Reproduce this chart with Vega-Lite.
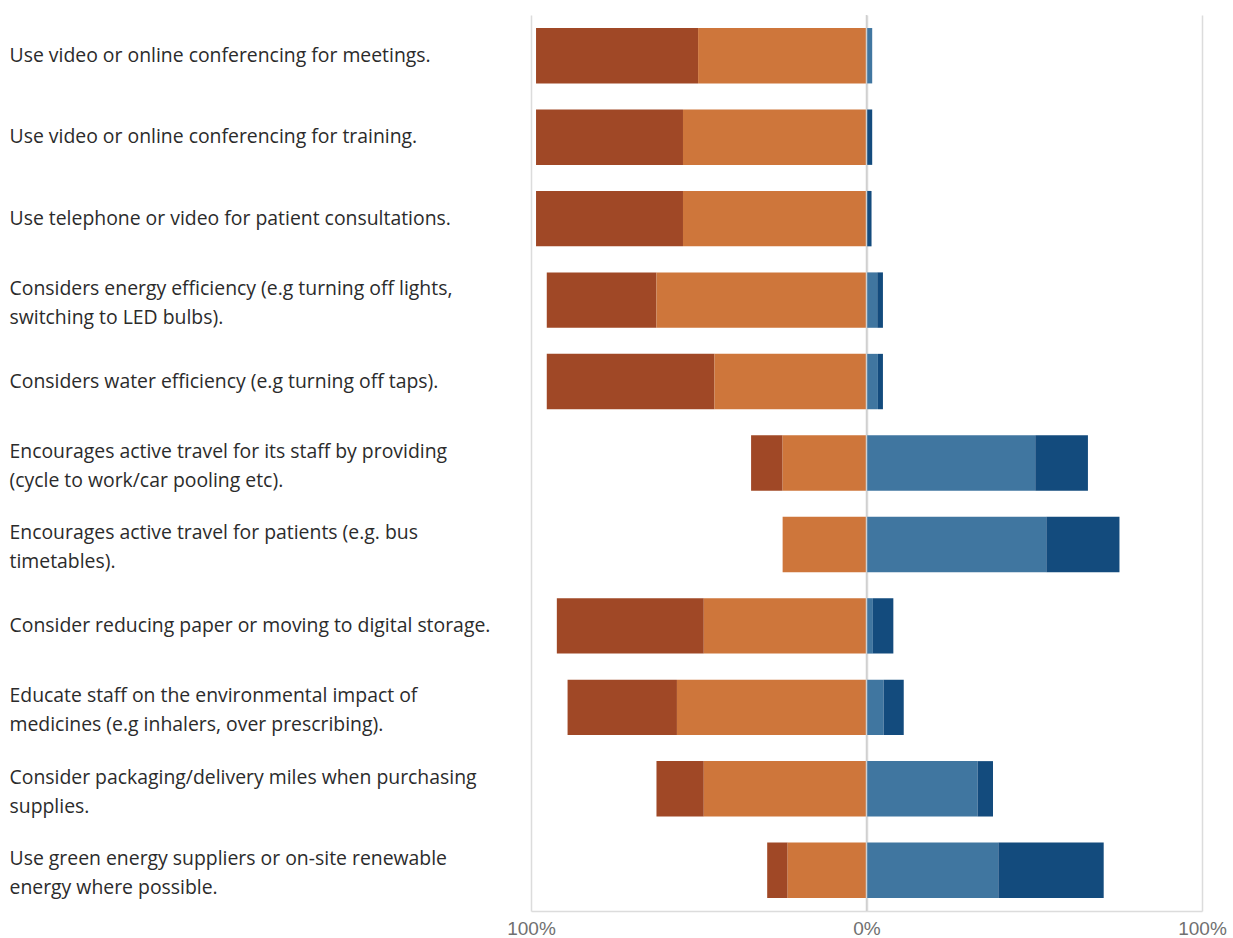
{
  "$schema": "https://vega.github.io/schema/vega-lite/v6.json",
  "width": 671,
  "height": 896,
  "autosize": "none",
  "padding": {"left": 531, "top": 15, "right": 31, "bottom": 27},
  "background": "white",
  "config": {"view": {"stroke": null}},
  "datasets": {
    "bars": [
      {"item": "Use video or online conferencing for meetings.", "response": "Strongly disagree", "pct": -48.3},
      {"item": "Use video or online conferencing for meetings.", "response": "Disagree", "pct": -50.2},
      {"item": "Use video or online conferencing for meetings.", "response": "Agree", "pct": 1.7},
      {"item": "Use video or online conferencing for meetings.", "response": "Strongly agree", "pct": 0},
      {"item": "Use video or online conferencing for training.", "response": "Strongly disagree", "pct": -43.8},
      {"item": "Use video or online conferencing for training.", "response": "Disagree", "pct": -54.7},
      {"item": "Use video or online conferencing for training.", "response": "Agree", "pct": 0},
      {"item": "Use video or online conferencing for training.", "response": "Strongly agree", "pct": 1.7},
      {"item": "Use telephone or video  for patient consultations.", "response": "Strongly disagree", "pct": -43.8},
      {"item": "Use telephone or video  for patient consultations.", "response": "Disagree", "pct": -54.7},
      {"item": "Use telephone or video  for patient consultations.", "response": "Agree", "pct": 0},
      {"item": "Use telephone or video  for patient consultations.", "response": "Strongly agree", "pct": 1.5},
      {"item": "Considers energy efficiency (e.g turning off lights,|switching to LED bulbs).", "response": "Strongly disagree", "pct": -32.7},
      {"item": "Considers energy efficiency (e.g turning off lights,|switching to LED bulbs).", "response": "Disagree", "pct": -62.6},
      {"item": "Considers energy efficiency (e.g turning off lights,|switching to LED bulbs).", "response": "Agree", "pct": 3.2},
      {"item": "Considers energy efficiency (e.g turning off lights,|switching to LED bulbs).", "response": "Strongly agree", "pct": 1.7},
      {"item": "Considers water efficiency (e.g turning off taps).", "response": "Strongly disagree", "pct": -50.0},
      {"item": "Considers water efficiency (e.g turning off taps).", "response": "Disagree", "pct": -45.3},
      {"item": "Considers water efficiency (e.g turning off taps).", "response": "Agree", "pct": 3.4},
      {"item": "Considers water efficiency (e.g turning off taps).", "response": "Strongly agree", "pct": 1.5},
      {"item": "Encourages active travel for its staff by providing|(cycle to work/car pooling etc).", "response": "Strongly disagree", "pct": -9.4},
      {"item": "Encourages active travel for its staff by providing|(cycle to work/car pooling etc).", "response": "Disagree", "pct": -25.0},
      {"item": "Encourages active travel for its staff by providing|(cycle to work/car pooling etc).", "response": "Agree", "pct": 50.3},
      {"item": "Encourages active travel for its staff by providing|(cycle to work/car pooling etc).", "response": "Strongly agree", "pct": 15.7},
      {"item": "Encourages active travel for patients (e.g. bus|timetables).", "response": "Strongly disagree", "pct": 0},
      {"item": "Encourages active travel for patients (e.g. bus|timetables).", "response": "Disagree", "pct": -25.0},
      {"item": "Encourages active travel for patients (e.g. bus|timetables).", "response": "Agree", "pct": 53.6},
      {"item": "Encourages active travel for patients (e.g. bus|timetables).", "response": "Strongly agree", "pct": 21.8},
      {"item": "Consider reducing paper or moving to digital storage.", "response": "Strongly disagree", "pct": -43.8},
      {"item": "Consider reducing paper or moving to digital storage.", "response": "Disagree", "pct": -48.5},
      {"item": "Consider reducing paper or moving to digital storage.", "response": "Agree", "pct": 1.9},
      {"item": "Consider reducing paper or moving to digital storage.", "response": "Strongly agree", "pct": 6.1},
      {"item": "Educate staff on the environmental impact of|medicines (e.g inhalers, over prescribing).", "response": "Strongly disagree", "pct": -32.6},
      {"item": "Educate staff on the environmental impact of|medicines (e.g inhalers, over prescribing).", "response": "Disagree", "pct": -56.5},
      {"item": "Educate staff on the environmental impact of|medicines (e.g inhalers, over prescribing).", "response": "Agree", "pct": 5.1},
      {"item": "Educate staff on the environmental impact of|medicines (e.g inhalers, over prescribing).", "response": "Strongly agree", "pct": 6.0},
      {"item": "Consider packaging/delivery miles when purchasing|supplies.", "response": "Strongly disagree", "pct": -14.1},
      {"item": "Consider packaging/delivery miles when purchasing|supplies.", "response": "Disagree", "pct": -48.5},
      {"item": "Consider packaging/delivery miles when purchasing|supplies.", "response": "Agree", "pct": 33.1},
      {"item": "Consider packaging/delivery miles when purchasing|supplies.", "response": "Strongly agree", "pct": 4.6},
      {"item": "Use green energy suppliers or on-site renewable|energy where possible.", "response": "Strongly disagree", "pct": -6.1},
      {"item": "Use green energy suppliers or on-site renewable|energy where possible.", "response": "Disagree", "pct": -23.5},
      {"item": "Use green energy suppliers or on-site renewable|energy where possible.", "response": "Agree", "pct": 39.3},
      {"item": "Use green energy suppliers or on-site renewable|energy where possible.", "response": "Strongly agree", "pct": 31.4}
    ],
    "zero": [{"pct": 0}]
  },
  "layer": [
    {
      "data": {"name": "bars"},
      "mark": {"type": "bar"},
      "encoding": {
        "y": {
          "field": "item",
          "type": "nominal",
          "sort": null,
          "scale": {"paddingInner": 0.32, "paddingOuter": 0.16},
          "axis": {
            "title": null,
            "domain": false,
            "ticks": false,
            "grid": false,
            "labelAlign": "left",
            "labelBaseline": "middle",
            "labelPadding": 522,
            "labelLimit": 0,
            "labelFont": "Open Sans",
            "labelFontSize": 19.4,
            "labelColor": "#2b2b2b",
            "labelLineHeight": 29,
            "labelOffset": {"condition": {"test": "indexof(datum.value, '|') >= 0", "value": -11}, "value": 0},
            "labelExpr": "split(datum.value, '|')"
          }
        },
        "x": {
          "field": "pct",
          "type": "quantitative",
          "stack": "zero",
          "scale": {"domain": [-100, 100], "nice": false},
          "axis": {
            "title": null,
            "values": [-100, 0, 100],
            "labelExpr": "abs(datum.value) + '%'",
            "grid": true,
            "gridColor": "#dcdcdc",
            "gridWidth": 1.5,
            "domain": true,
            "domainColor": "#dcdcdc",
            "domainWidth": 1.5,
            "ticks": false,
            "labelPadding": 8,
            "labelFont": "Liberation Sans",
            "labelFontSize": 19,
            "labelColor": "#707070",
            "labelFlush": false
          }
        },
        "color": {
          "field": "response",
          "type": "nominal",
          "scale": {
            "domain": ["Strongly disagree", "Disagree", "Agree", "Strongly agree"],
            "range": ["#A04826", "#CE763B", "#4076A0", "#134B7D"]
          },
          "legend": null
        },
        "order": {"field": "response", "sort": "ascending"}
      }
    },
    {
      "data": {"name": "zero"},
      "mark": {"type": "rule", "color": "#d0d0d0", "strokeWidth": 1.5},
      "encoding": {
        "x": {"field": "pct", "type": "quantitative"}
      }
    }
  ]
}
